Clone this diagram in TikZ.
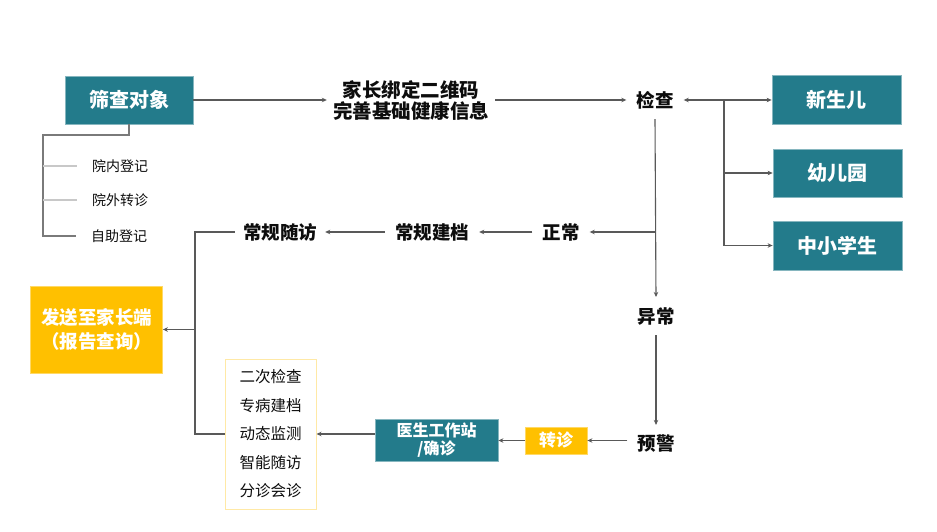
\documentclass[tikz,border=0pt]{standalone}
\usepackage{fontspec}
\setmainfont{Noto Sans CJK SC}
\usetikzlibrary{arrows.meta}
\definecolor{teal1}{HTML}{237B8B}
\definecolor{gold1}{HTML}{FFC000}
\definecolor{line1}{HTML}{595959}
\definecolor{light1}{HTML}{C8C8C8}
\definecolor{txt1}{HTML}{0D0D0D}
\begin{document}
\begin{tikzpicture}[x=1pt,y=-1pt,
  conn/.style={draw=line1, line width=1.1pt},
  arr/.style={conn, -{Stealth[length=5pt,width=4.5pt]}},
  darr/.style={conn, {Stealth[length=5pt,width=4.5pt]}-{Stealth[length=5pt,width=4.5pt]}},
  tealbox/.style={fill=teal1, draw=teal1!55!white, line width=0.8pt, text=white, inner sep=0pt, font=\bfseries\fontsize{20}{24}\selectfont},
  goldbox/.style={fill=gold1, draw=gold1!60!white, line width=0.8pt, text=white, inner sep=0pt, align=center},
  lbl/.style={text=txt1, inner sep=10pt, align=center, font=\bfseries\fontsize{18.5}{22}\selectfont},
  small/.style={text=txt1, inner sep=0pt, font=\fontsize{14}{17}\selectfont},
]
\useasboundingbox (0,0) rectangle (937,532);
\fill[white] (0,0) rectangle (937,532);

% nodes
\node[tealbox, minimum width=128pt, minimum height=48pt] (scr) at (129,100) {筛查对象};
\node[lbl, inner sep=6pt, font=\bfseries\fontsize{19.5}{21}\selectfont] (bind) at (411,100) {家长绑定二维码\\完善基础健康信息};
\node[lbl] (chk) at (655,100) {检查};
\node[tealbox, minimum width=129pt, minimum height=49pt] (nb) at (836.5,99.5) {新生儿};
\node[tealbox, minimum width=129pt, minimum height=48pt] (kg) at (837.5,173) {幼儿园};
\node[tealbox, minimum width=129pt, minimum height=49pt] (ps) at (837.5,245.5) {中小学生};

\node[small] (l1) at (120,166) {院内登记};
\node[small] (l2) at (120,200) {院外转诊};
\node[small] (l3) at (119,236) {自助登记};

\node[lbl] (zc) at (561,232) {正常};
\node[lbl] (jd) at (432,232) {常规建档};
\node[lbl, inner sep=8pt] (sf) at (280,232) {常规随访};
\node[lbl] (yc) at (656,316) {异常};
\node[lbl] (yj) at (656,444) {预警};

\node[goldbox, minimum width=62pt, minimum height=27pt, font=\bfseries\fontsize{17}{20}\selectfont] (zz) at (556,440.5) {转诊};
\node[tealbox, minimum width=123pt, minimum height=42pt, align=center, font=\bfseries\fontsize{16}{18}\selectfont] (doc) at (436.5,440) {医生工作站\\/确诊};
\node[draw=gold1!35!white, line width=1pt, minimum width=91pt, minimum height=150pt, inner sep=0pt, align=center, text=txt1, font=\fontsize{15.5}{28.5}\selectfont] (list) at (270.5,434) {二次检查\\专病建档\\动态监测\\智能随访\\分诊会诊};
\node[goldbox, minimum width=132pt, minimum height=87pt, font=\bfseries\fontsize{18.5}{24}\selectfont] (send) at (96.5,329.5) {发送至家长端\\（报告查询）};

% connectors top row
\draw[arr] (scr.east) -- (bind.west |- scr.east);
\draw[arr] (bind.east |- chk.west) -- (chk.west);
\draw[darr] (chk.east) -- (nb.west |- chk.east);
\coordinate (br) at (724,100);
\draw[arr] (br) |- (ps.west);
\draw[arr] (br |- kg.west) -- (kg.west);

% left list
\coordinate (lt) at (43,135);
\draw[conn, draw=line1!80] (scr.south) -- (scr.south |- lt) -- (lt) -- (lt |- l3.west) -- ([xshift=-15pt]l3.west);
\draw[conn, draw=light1] (lt |- l1.west) -- ([xshift=-15pt]l1.west);
\draw[conn, draw=light1] (lt |- l2.west) -- ([xshift=-15pt]l2.west);

% check down
\draw[arr] (chk.south) -- (yc.north);
\draw[arr] (chk.south |- zc.east) -- (zc.east);
\draw[arr] (zc.west) -- (jd.east);
\draw[arr] (jd.west) -- (sf.east);
\coordinate (lk) at (195,232);
\draw[conn] (sf.west) -- (lk) |- (list.west);
\draw[arr] (lk |- send.east) -- (send.east);

% abnormal path
\draw[arr] (yc.south) -- (yj.north);
\draw[arr] (yj.west |- zz.east) -- (zz.east);
\draw[arr] (zz.west) -- (doc.east |- zz.west);
\draw[arr] (doc.west |- list.east) -- (list.east);
\end{tikzpicture}
\end{document}
